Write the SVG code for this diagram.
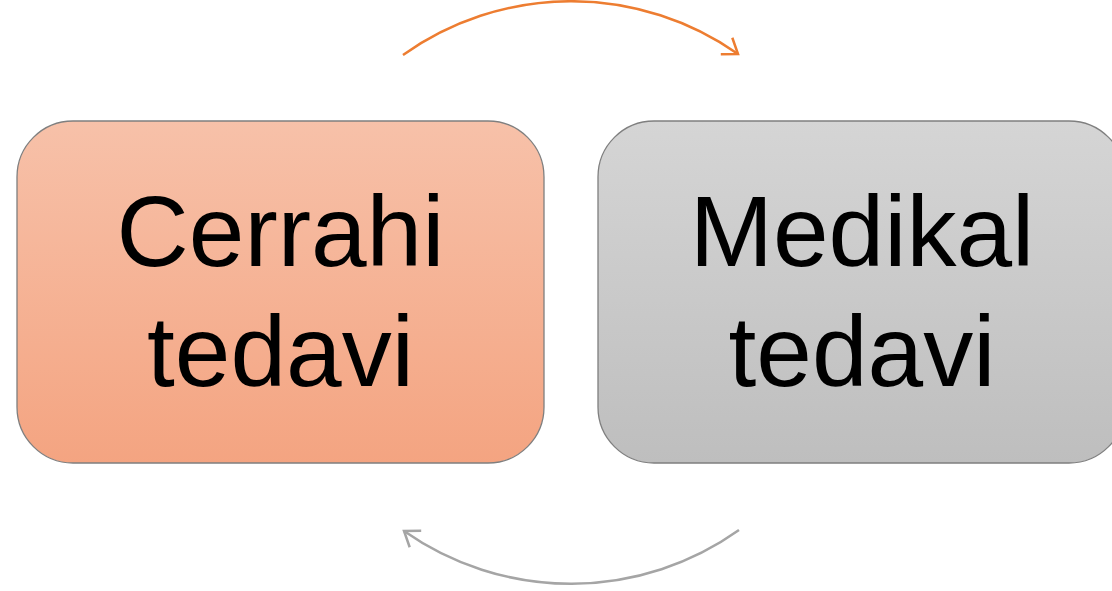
<svg xmlns="http://www.w3.org/2000/svg" width="1112" height="591" viewBox="0 0 1112 591">
  <defs>
    <linearGradient id="gOrange" x1="0" y1="0" x2="0" y2="1">
      <stop offset="0" stop-color="#F7C1A9"/>
      <stop offset="1" stop-color="#F4A481"/>
    </linearGradient>
    <linearGradient id="gGray" x1="0" y1="0" x2="0" y2="1">
      <stop offset="0" stop-color="#D5D5D5"/>
      <stop offset="1" stop-color="#BEBEBE"/>
    </linearGradient>
    <marker id="arrOrange" viewBox="0 0 24 24" refX="20" refY="12" markerWidth="24" markerHeight="24" markerUnits="userSpaceOnUse" orient="auto">
      <polyline points="6,2 20,12 6,22" fill="none" stroke="#ED7D31" stroke-width="2.5"/>
    </marker>
    <marker id="arrGray" viewBox="0 0 24 24" refX="20" refY="12" markerWidth="24" markerHeight="24" markerUnits="userSpaceOnUse" orient="auto">
      <polyline points="6,2 20,12 6,22" fill="none" stroke="#A5A5A5" stroke-width="2.5"/>
    </marker>
  </defs>
  <style>
    .box { stroke: #7F7F7F; stroke-width: 1.3; }
    .label { font-family: "Liberation Sans", Arial, sans-serif; font-size: 100px; fill: #000; text-anchor: middle; }
    .conn { fill: none; stroke-width: 2.5; }
  </style>
  <g id="connectors">
    <path class="conn" d="M403,55 A290,290 0 0,1 738,54" stroke="#ED7D31" marker-end="url(#arrOrange)"/>
    <path class="conn" d="M739,530 A290,290 0 0,1 404,531" stroke="#A5A5A5" marker-end="url(#arrGray)"/>
  </g>
  <g id="node-cerrahi">
    <rect class="box" x="17" y="121" width="527" height="342" rx="56" ry="56" fill="url(#gOrange)"/>
    <text class="label" x="280.5" y="266">Cerrahi</text>
    <text class="label" x="280.5" y="386">tedavi</text>
  </g>
  <g id="node-medikal">
    <rect class="box" x="598" y="121" width="527" height="342" rx="56" ry="56" fill="url(#gGray)"/>
    <text class="label" x="862" y="266">Medikal</text>
    <text class="label" x="862" y="386">tedavi</text>
  </g>
</svg>
